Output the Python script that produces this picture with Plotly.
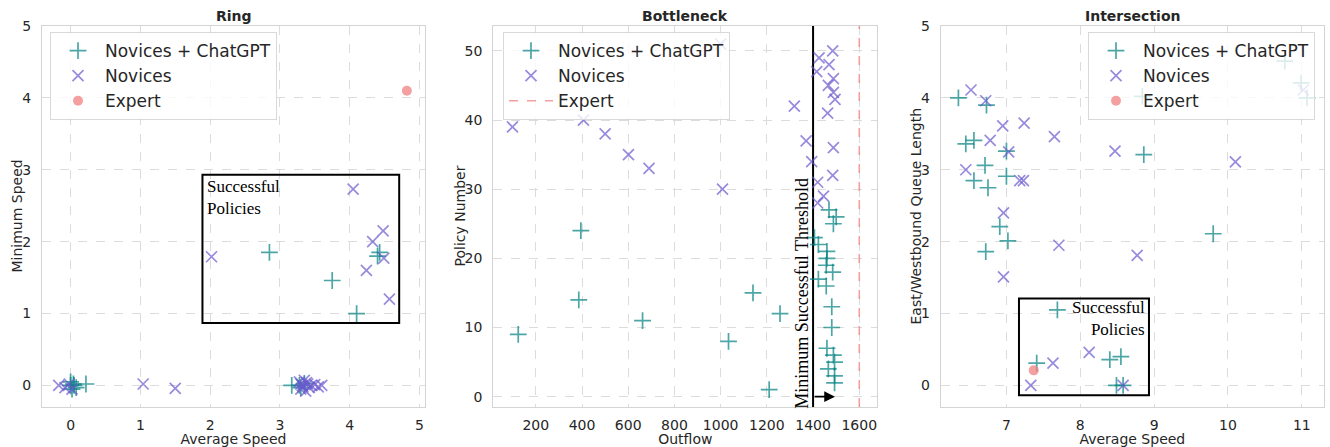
import plotly.graph_objects as go

# ---------------- data ----------------
# Ring
ring_gpt_x = [0.0, 0.02, 0.05, 0.08, 0.0, 0.04, 0.22, 2.85, 3.75, 4.10, 4.43, 4.40, 3.17, 3.28, 3.35, 3.30]
ring_gpt_y = [0.05, -0.05, 0.0, -0.03, 0.0, 0.02, 0.02, 1.85, 1.46, 1.00, 1.85, 1.80, 0.0, 0.0, 0.03, -0.03]
ring_nov_x = [-0.17, -0.08, -0.02, 0.02, 1.04, 1.50, 2.02, 4.05, 4.33, 4.48, 4.49, 4.24, 4.57,
              3.28, 3.30, 3.32, 3.35, 3.37, 3.40, 3.42, 3.45, 3.38, 3.33, 3.50, 3.55, 3.60, 3.30]
ring_nov_y = [0.0, -0.03, 0.02, -0.05, 0.02, -0.04, 1.79, 2.73, 2.00, 2.15, 1.77, 1.60, 1.20,
              0.05, -0.05, 0.0, 0.07, -0.08, 0.02, -0.03, 0.0, 0.04, -0.02, 0.01, -0.02, 0.0, 0.02]
ring_exp_x = [4.82]
ring_exp_y = [4.10]
ring_box = [1.89, 4.71, 0.87, 2.93]

# Bottleneck
bot_gpt_x = [124, 395, 386, 662, 1034, 1140, 1257, 1210, 1406, 1423, 1460, 1460, 1457, 1485, 1423,
             1457, 1481, 1481, 1460, 1488, 1493, 1466, 1493, 1493, 1469, 1500, 1488]
bot_gpt_y = [9, 24, 14, 11, 8, 15, 12, 1, 23, 22, 21, 20, 19, 18, 17,
             16, 13, 10, 7, 6, 5, 4, 3, 2, 27, 26, 25]
bot_nov_x = [99, 406, 500, 601, 690, 1008, 1319, 1370, 1394, 1420, 1420, 1445, 1485, 1488, 1463,
             1495, 1488, 1466, 1488, 1416, 1469, 1426, 1485, 1000]
bot_nov_y = [39, 40, 38, 35, 33, 30, 42, 37, 34, 31, 28, 29, 32, 36, 41,
             43, 44, 45, 46, 47, 48, 49, 50, 51]
bot_threshold = 1400
bot_expert = 1600
bot_arrow_end = 1495

# Intersection
int_gpt_x = [6.35, 6.73, 6.45, 6.56, 6.71, 6.56, 6.75, 7.00, 7.00, 6.91, 7.02, 6.72, 8.86, 9.80,
             10.77, 10.99, 11.07, 8.84, 7.69, 7.41, 8.40, 8.55, 8.49, 8.58]
int_gpt_y = [4.00, 3.90, 3.36, 3.41, 3.06, 2.85, 2.75, 3.26, 2.91, 2.21, 2.01, 1.86, 3.21, 2.11,
             4.51, 4.21, 4.00, 4.02, 1.05, 0.31, 0.36, 0.40, 0.0, 0.0]
int_nov_x = [6.52, 6.72, 6.95, 7.24, 6.78, 7.65, 7.03, 8.47, 6.45, 7.18, 7.23, 10.10, 6.96, 7.71,
             8.77, 6.96, 11.02, 8.12, 7.63, 7.33, 8.58]
int_nov_y = [4.11, 3.96, 3.61, 3.65, 3.41, 3.46, 3.25, 3.26, 3.00, 2.85, 2.85, 3.11, 2.40, 1.95,
             1.81, 1.51, 4.11, 0.46, 0.31, 0.0, 0.0]
int_exp_x = [7.37]
int_exp_y = [0.21]
int_box = [7.17, 8.93, -0.135, 1.21]

# ---------------- style ----------------
W, H = 1330, 447
TEAL = "rgba(0,128,128,0.7)"
PURP = "rgba(106,90,205,0.7)"
CORAL = "rgba(240,128,128,0.75)"
FONT = "DejaVu Sans"
SERIF = "Liberation Serif"
TXT = "#262626"

def px(v, total):
    return v / total

doms_x = [(42, 425), (493.3, 877.3), (940.7, 1324)]
dom_y = [1 - 407 / H, 1 - 26 / H]
ytitle_x = [16, 459, 915]
ranges_x = [[-0.41, 5.08], [16, 1678], [6.11, 11.30]]
ranges_y = [[-0.30, 5.0], [-1.5, 53.6], [-0.30, 5.0]]
ticks_x = [[0, 1, 2, 3, 4, 5], [200, 400, 600, 800, 1000, 1200, 1400, 1600], [7, 8, 9, 10, 11]]
ticks_y = [[0, 1, 2, 3, 4, 5], [0, 10, 20, 30, 40, 50], [0, 1, 2, 3, 4, 5]]
xtitles = ["Average Speed", "Outflow", "Average Speed"]
ytitles = ["Minimum Speed", "Policy Number", "East/Westbound Queue Length"]
titles = ["Ring", "Bottleneck", "Intersection"]

fig = go.Figure()

def gpt_trace(x, y, i, leg):
    return go.Scatter(x=x, y=y, mode="markers", name="Novices + ChatGPT",
                      xaxis="x" if i == 1 else f"x{i}", yaxis="y" if i == 1 else f"y{i}",
                      legend=leg,
                      marker=dict(symbol="cross-thin", size=12, color=TEAL,
                                  line=dict(color=TEAL, width=1.7)))

def nov_trace(x, y, i, leg):
    return go.Scatter(x=x, y=y, mode="markers", name="Novices",
                      xaxis="x" if i == 1 else f"x{i}", yaxis="y" if i == 1 else f"y{i}",
                      legend=leg,
                      marker=dict(symbol="x-thin", size=11, color=PURP,
                                  line=dict(color=PURP, width=1.7)))

def exp_trace(x, y, i, leg):
    return go.Scatter(x=x, y=y, mode="markers", name="Expert",
                      xaxis="x" if i == 1 else f"x{i}", yaxis="y" if i == 1 else f"y{i}",
                      legend=leg,
                      marker=dict(symbol="circle", size=10, color=CORAL))

# Ring
fig.add_trace(gpt_trace(ring_gpt_x, ring_gpt_y, 1, "legend"))
fig.add_trace(nov_trace(ring_nov_x, ring_nov_y, 1, "legend"))
fig.add_trace(exp_trace(ring_exp_x, ring_exp_y, 1, "legend"))

# Bottleneck
fig.add_trace(go.Scatter(x=[bot_threshold, bot_threshold], y=ranges_y[1], mode="lines",
                         xaxis="x2", yaxis="y2", showlegend=False,
                         line=dict(color="black", width=2)))
fig.add_trace(gpt_trace(bot_gpt_x, bot_gpt_y, 2, "legend2"))
fig.add_trace(nov_trace(bot_nov_x, bot_nov_y, 2, "legend2"))
fig.add_trace(go.Scatter(x=[bot_expert, bot_expert], y=ranges_y[1], mode="lines", name="Expert",
                         xaxis="x2", yaxis="y2", legend="legend2",
                         line=dict(color=CORAL, width=1.6, dash="dash")))

# Intersection
fig.add_trace(gpt_trace(int_gpt_x, int_gpt_y, 3, "legend3"))
fig.add_trace(nov_trace(int_nov_x, int_nov_y, 3, "legend3"))
fig.add_trace(exp_trace(int_exp_x, int_exp_y, 3, "legend3"))

layout = dict(width=W, height=H, margin=dict(l=0, r=0, t=0, b=0, autoexpand=False),
              paper_bgcolor="white", plot_bgcolor="white",
              font=dict(family=FONT, size=14, color=TXT))

for i in range(3):
    sx = "" if i == 0 else str(i + 1)
    layout["xaxis" + sx] = dict(
        domain=[px(doms_x[i][0], W), px(doms_x[i][1], W)], range=ranges_x[i],
        anchor="y" + sx, tickvals=ticks_x[i], showgrid=True, gridcolor="#dcdcdc",
        griddash="dash", gridwidth=1, zeroline=False, showline=True, mirror=True,
        linecolor="#d4d4d4", linewidth=1.2, ticks="", ticklabelstandoff=5, automargin=False,
        tickfont=dict(size=14, color=TXT),
        title=dict(text=xtitles[i], standoff=0, font=dict(size=14, color=TXT)))
    layout["yaxis" + sx] = dict(
        domain=dom_y, range=ranges_y[i], anchor="x" + sx, tickvals=ticks_y[i],
        showgrid=True, gridcolor="#dcdcdc", griddash="dash", gridwidth=1, zeroline=False,
        showline=True, mirror=True, linecolor="#d4d4d4", linewidth=1.2, ticks="",
        ticklabelstandoff=7, automargin=False, tickfont=dict(size=14, color=TXT))

leg_common = dict(bgcolor="rgba(255,255,255,0.8)", bordercolor="#d9d9d9", borderwidth=1,
                  font=dict(family=FONT, size=17, color=TXT), itemwidth=44,
                  yanchor="top", y=1 - 32 / H)
layout["legend"] = dict(leg_common, x=px(50, W), xanchor="left")
layout["legend2"] = dict(leg_common, x=px(503, W), xanchor="left")
layout["legend3"] = dict(leg_common, x=px(1315, W), xanchor="right")

shapes = []
for (x0, x1, y0, y1), sx in [(ring_box, ""), (int_box, "3")]:
    shapes.append(dict(type="rect", xref="x" + sx, yref="y" + sx, x0=x0, x1=x1, y0=y0, y1=y1,
                       line=dict(color="black", width=2), fillcolor="rgba(0,0,0,0)"))
layout["shapes"] = shapes

ann = []
for i in range(3):
    cx = (doms_x[i][0] + doms_x[i][1]) / 2 / W
    ann.append(dict(text="<b>" + titles[i] + "</b>", xref="paper", yref="paper", x=cx,
                    y=1 - 16 / H, yanchor="middle", xanchor="center", showarrow=False,
                    font=dict(size=14, color=TXT)))
    ann.append(dict(text=ytitles[i], xref="paper", yref="paper", x=ytitle_x[i] / W,
                    y=(dom_y[0] + dom_y[1]) / 2, textangle=-90, xanchor="center",
                    yanchor="middle", showarrow=False, font=dict(size=14, color=TXT)))
ann.append(dict(text="Successful<br>Policies", xref="x", yref="y", x=1.93, y=2.93,
                xanchor="left", yanchor="top", align="left", showarrow=False,
                font=dict(family=SERIF, size=17, color="black")))
ann.append(dict(text="Successful<br>Policies", xref="x3", yref="y3", x=8.90, y=1.24,
                xanchor="right", yanchor="top", align="right", showarrow=False,
                font=dict(family=SERIF, size=17, color="black")))
ann.append(dict(text="Minimum Successful Threshold", xref="x2", yref="y2", x=1351, y=15,
                textangle=-90, showarrow=False, xanchor="center", yanchor="middle",
                font=dict(family=SERIF, size=18, color="black")))
ann.append(dict(text="", xref="x2", yref="y2", x=bot_arrow_end, y=0, ax=bot_threshold, ay=0,
                axref="x2", ayref="y2", showarrow=True, arrowhead=2, arrowsize=1.2,
                arrowwidth=1.8, arrowcolor="black"))
layout["annotations"] = ann

fig.update_layout(**layout)
fig.write_html("out.html", config={"displayModeBar": False},
               post_script="document.body.style.margin='0';document.body.style.padding='0';"
                           "document.body.style.overflow='hidden';")
